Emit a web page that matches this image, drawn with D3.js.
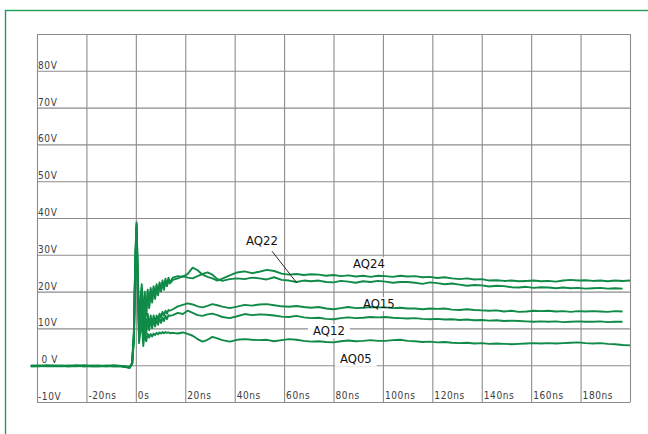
<!DOCTYPE html>
<head>
    <meta charset="utf-8">
    <script src="https://d3js.org/d3.v7.min.js"></script>
    <style>
        body { margin: 0; background: #fff; }
        text { font-family: "Liberation Sans Narrow", "DejaVu Sans Condensed", "Arial Narrow", sans-serif; }
    </style>
</head>

<body>
    <div id="scope"></div>
</body>

<script>

    // sample times (ns)
    const times = [-42.5, -39, -36, -33, -30, -27, -24, -21, -18, -15, -12, -9, -6, -2.5,
        -1.5, -0.8, -0.2, 0.3, 0.8, 1.3, 1.8,
        2.4, 3.0, 3.6, 4.2, 4.8, 5.4, 6.0, 6.6, 7.2, 7.8, 8.4, 9.0, 9.6, 10.2, 10.8, 11.4, 12.0, 12.6, 13.2, 13.8,
        15, 17, 19, 21, 23, 25, 27, 29, 31, 33, 35,
        38, 41, 44, 47, 50, 53, 56, 59, 62, 65, 68, 71, 74,
        77, 80, 83, 86, 89, 92, 95, 98, 101, 104, 107, 110,
        113, 116, 119, 122, 125, 128, 131, 134, 137, 140, 143, 146,
        149, 152, 155, 158, 161, 164, 167, 170, 173, 176, 179, 182,
        185, 188, 191, 194, 197, 200];

    // voltages (V) per trace
    const aq24 = [-0.2, -0.3, -0.1, -0.2, -0.3, -0.1, -0.2, -0.3, -0.2, -0.1, -0.3, -0.2, -0.3, -0.7,
        0.6, 9, 30, 38.8, 25, 13, 17,
        22, 12, 20, 14, 20.5, 16, 21, 17.5, 21.5, 18.5, 22, 19.5, 22.5, 20.5, 23, 21, 23.5, 21.5, 23.8, 22.5,
        23.8, 24.2, 24.0, 24.8, 26.5, 25.8, 24.6, 24.0, 23.6, 23.0, 23.5,
        24.4, 25.2, 25.5, 25.0, 25.4, 25.9, 25.6, 24.9, 24.6, 24.8, 24.5, 24.7, 24.6,
        24.3, 24.5, 24.2, 24.4, 24.1, 24.3, 24.0, 24.3, 24.2, 24.0, 24.3, 24.1,
        24.2, 23.9, 24.0, 23.7, 23.9, 23.6, 23.4, 23.6, 23.3, 23.4, 23.0, 23.1,
        22.9, 23.0, 22.8, 22.9, 23.0, 22.8, 22.9, 22.7, 23.0, 23.2, 23.0, 23.1,
        22.9, 23.0, 22.8, 23.0, 22.9, 23.0];

    const aq22 = [-0.3, -0.2, -0.2, -0.1, -0.2, -0.3, -0.1, -0.2, -0.3, -0.2, -0.2, -0.1, -0.2, -0.6,
        0.5, 8.5, 29, 38.4, 24, 12, 16,
        21, 11, 19, 13.5, 20, 15.5, 20.5, 17, 21, 18, 21.5, 19, 22, 20, 22.5, 20.5, 23, 21.5, 23.2, 22.2,
        23.2, 23.6, 24.2, 23.8, 23.6, 24.2, 24.8, 25.2, 24.6, 23.4, 22.9,
        23.4, 23.6, 23.4, 23.8, 23.6, 23.3, 23.9, 23.2, 23.0, 22.6, 23.0, 22.8, 23.0,
        22.6, 22.5, 22.9, 22.7, 22.4, 22.8, 22.6, 22.9, 22.7, 22.4, 22.6, 22.6,
        22.4, 22.1, 22.5, 22.3, 22.0, 22.2, 21.9, 21.6, 21.8, 21.7, 21.4, 21.6,
        21.5, 21.2, 21.1, 21.3, 21.0, 21.2, 21.1, 20.9, 21.1, 20.9, 21.0, 20.8,
        20.9, 21.0, 20.8, 20.9, 20.8, null];

    const aq15 = [-0.1, -0.2, -0.3, -0.2, -0.1, -0.2, -0.3, -0.1, -0.2, -0.3, -0.1, -0.3, -0.2, -0.7,
        0.5, 8, 28, 37.8, 22, 9, 13,
        17, 8, 14, 9.5, 14, 10.5, 13.5, 11, 13.5, 11.5, 13.5, 12.5, 14, 13, 14.5, 13.5, 14.8, 14, 15, 14.8,
        15.2, 16.0, 16.4, 16.8, 16.5, 16.0, 15.7, 16.1, 16.6, 16.3, 15.9,
        15.5, 15.9, 16.4, 16.2, 16.5, 16.6, 16.3, 16.0, 15.9, 16.1, 15.8, 15.6, 15.8,
        15.4, 15.2, 15.5, 15.8, 15.5, 15.6, 15.8, 15.7, 15.7, 15.5, 15.6, 15.4,
        15.4, 15.2, 15.4, 15.3, 15.4, 15.1, 15.0, 15.2, 15.0, 14.9, 14.8, 14.9,
        14.6, 14.8, 14.5, 14.6, 14.8, 14.7, 14.8, 14.6, 14.7, 14.5, 14.7, 14.6,
        14.7, 14.6, 14.5, 14.7, 14.6, null];

    const aq12 = [-0.2, -0.1, -0.2, -0.3, -0.2, -0.2, -0.1, -0.3, -0.1, -0.2, -0.2, -0.2, -0.3, -0.6,
        0.4, 7.5, 27, 37.2, 21, 8, 12,
        16, 7, 13, 8.5, 12.5, 9.5, 12.5, 10, 12.5, 10.5, 12.5, 11, 12.8, 11.5, 13, 12, 13.4, 12.5, 13.6, 13.4,
        13.6, 14.2, 13.9, 14.8, 14.2, 13.6, 13.4, 13.8, 14.0, 13.6, 13.1,
        12.8, 13.3, 13.9, 13.6, 13.8, 13.7, 13.5, 13.2, 13.1, 13.4, 13.0, 12.8, 12.9,
        12.6, 12.5, 12.8, 13.0, 12.8, 12.9, 13.1, 13.0, 13.1, 12.9, 12.8, 12.7,
        12.8, 12.6, 12.5, 12.6, 12.4, 12.5, 12.3, 12.4, 12.2, 12.3, 12.1, 12.2,
        12.0, 12.1, 12.0, 11.9, 11.8, 11.9, 11.8, 11.9, 11.7, 11.8, 11.9, 11.8,
        11.8, 11.9, 11.7, 11.8, 11.8, null];

    const aq05 = [-0.3, -0.2, -0.1, -0.2, -0.2, -0.3, -0.2, -0.1, -0.3, -0.2, -0.3, -0.1, -0.2, -0.5,
        0.3, 6.5, 25, 35.5, 19, 6, 9,
        12, 5.2, 9, 6.5, 8.5, 7.5, 8.5, 7.8, 8.6, 8.2, 8.8, 8.4, 8.9, 8.6, 9.0, 8.7, 9.0, 8.8, 8.9, 8.7,
        8.8, 8.6, 8.9, 8.5, 8.0, 7.1, 6.4, 6.9, 7.7, 7.3, 6.8,
        6.4, 6.9, 7.1, 6.9, 6.8, 6.9, 6.5, 6.8, 7.1, 6.9, 6.6, 6.4, 6.5,
        6.3, 6.2, 6.5, 6.7, 6.5, 6.6, 6.8, 6.6, 6.6, 6.8, 6.9, 6.6,
        6.5, 6.3, 6.4, 6.2, 6.3, 6.1, 6.0, 6.1, 5.9, 6.0, 5.8, 5.9,
        5.8, 5.7, 5.8, 5.9, 6.0, 5.9, 6.0, 5.9, 6.0, 6.1, 6.2, 6.0,
        5.9, 6.0, 5.8, 5.7, 5.5, 5.4];

    const seriesNames = ["AQ24", "AQ22", "AQ15", "AQ12", "AQ05"];
    const seriesValues = [aq24, aq22, aq15, aq12, aq05];

    const xTickValues = [-20, 0, 20, 40, 60, 80, 100, 120, 140, 160, 180];
    const xTickLabels = ["-20ns", "0s", "20ns", "40ns", "60ns", "80ns", "100ns", "120ns", "140ns", "160ns", "180ns"];
    const yTickValues = [-10, 0, 10, 20, 30, 40, 50, 60, 70, 80];
    const yTickLabels = ["-10V", " 0 V", "10V", "20V", "30V", "40V", "50V", "60V", "70V", "80V"];

    // trace name callouts, placed in data units (ns, V)
    const callouts = [
        {name: "AQ22", t: 44.6, v: 32.7},
        {name: "AQ24", t: 87.9, v: 26.4},
        {name: "AQ15", t: 91.9, v: 15.5},
        {name: "AQ12", t: 71.7, v: 8.1},
        {name: "AQ05", t: 82.6, v: 0.5}
    ];
    const leader = [[55.1, 31.0], [65.1, 22.4]];

    const W = 648, H = 434;
    const margin = {top: 34, right: 18, bottom: 32, left: 37},
        width = W - margin.left - margin.right,
        height = H - margin.top - margin.bottom;

    const root = d3.select("#scope")
        .append("svg")
            .attr("width", W)
            .attr("height", H);

    // green page frame
    root.append("rect")
        .attr("x", 5.5).attr("y", 10.5)
        .attr("width", 700).attr("height", 500)
        .attr("fill", "none")
        .attr("stroke", "#1f9d57")
        .attr("stroke-width", 1.4);

    const svg = root.append("g")
        .attr("transform", `translate(${margin.left},${margin.top})`);

    const x = d3.scaleLinear().domain([-40, 200]).range([0, width]);
    const y = d3.scaleLinear().domain([-10, 90]).range([height, 0]);

    // grid
    const gx = svg.append("g")
        .attr("transform", `translate(0,${height})`)
        .call(d3.axisBottom(x).tickValues(d3.range(-40, 201, 20)).tickSize(-height).tickSizeOuter(0).tickFormat(""));
    const gy = svg.append("g")
        .call(d3.axisLeft(y).tickValues(d3.range(-10, 91, 10)).tickSize(-width).tickSizeOuter(0).tickFormat(""));
    gy.select(".domain").remove();
    [gx, gy].forEach(g => {
        g.selectAll("line, path").attr("stroke", "#8c8c8c").attr("stroke-width", 1.1);
    });

    // tick labels
    const lx = svg.append("g")
        .attr("transform", `translate(0,${height})`)
        .call(d3.axisBottom(x).tickValues(xTickValues).tickSize(0).tickFormat((d, i) => xTickLabels[i]));
    lx.select(".domain").remove();
    lx.selectAll("text")
        .attr("text-anchor", "start")
        .attr("x", 1.5).attr("y", -3).attr("dy", 0);

    const ly = svg.append("g")
        .call(d3.axisLeft(y).tickValues(yTickValues).tickSize(0).tickFormat((d, i) => yTickLabels[i]));
    ly.select(".domain").remove();
    ly.selectAll("text")
        .attr("text-anchor", "start")
        .attr("x", 1).attr("y", -2.5).attr("dy", 0)
        .style("white-space", "pre");

    [lx, ly].forEach(g => {
        g.selectAll("text")
            .attr("fill", "#3c3c3c")
            .attr("font-size", 10)
            .attr("letter-spacing", 0.6)
            .style("font-family", '"Liberation Sans Narrow", "DejaVu Sans Condensed", sans-serif');
    });

    // white boxes behind callouts (drawn first, measured from text)
    const boxLayer = svg.append("g");
    const traceLayer = svg.append("g");
    const textLayer = svg.append("g");

    const labels = textLayer.selectAll("text")
        .data(callouts)
        .join("text")
            .attr("x", d => x(d.t))
            .attr("y", d => y(d.v))
            .attr("font-size", 13)
            .attr("fill", "#111")
            .text(d => d.name);

    labels.each(function(d) {
        const b = this.getBBox();
        boxLayer.append("rect")
            .attr("x", b.x - 5).attr("y", b.y + 1)
            .attr("width", b.width + 10).attr("height", b.height - 1)
            .attr("fill", "#fff");
    });

    textLayer.append("line")
        .attr("x1", x(leader[0][0])).attr("y1", y(leader[0][1]))
        .attr("x2", x(leader[1][0])).attr("y2", y(leader[1][1]))
        .attr("stroke", "#111")
        .attr("stroke-width", 0.9);

    // traces
    const line = d3.line()
        .defined(d => d[1] !== null)
        .x(d => x(d[0]))
        .y(d => y(d[1]));

    traceLayer.selectAll("path")
        .data(seriesValues)
        .join("path")
            .attr("fill", "none")
            .attr("stroke", "#0f8a47")
            .attr("stroke-width", 1.9)
            .attr("stroke-linejoin", "round")
            .attr("d", vals => line(times.map((t, i) => [t, vals[i]])));

</script>
</html>
